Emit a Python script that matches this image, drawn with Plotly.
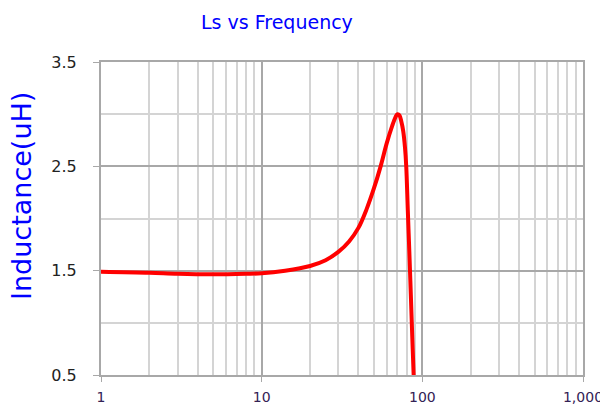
import plotly.graph_objects as go

# Frequency (MHz) and inductance (uH)
freq = [1, 2, 3, 5, 8, 10, 14, 20, 25, 30, 35, 40, 45, 50, 55, 60, 65,
        68, 70, 72, 74, 76, 78, 79.4, 81.2, 83.0, 84.8, 86.6, 88.3, 88.8]
ls = [1.49, 1.48, 1.47, 1.465, 1.47, 1.475, 1.50, 1.545, 1.60, 1.68, 1.78,
      1.91, 2.09, 2.29, 2.50, 2.72, 2.89, 2.97, 3.00, 2.99, 2.93, 2.84,
      2.68, 2.50, 2.08, 1.68, 1.27, 0.86, 0.50, 0.38]

x_tickvals = [1, 10, 100, 1000]
x_ticktext = ["1", "10", "100", "1,000"]
y_tickvals = [0.5, 1.5, 2.5, 3.5]
y_ticktext = ["0.5", "1.5", "2.5", "3.5"]

title_text = "Ls vs Frequency"
y_title = "Inductance(uH)"

major = "#a8a8a8"
minor_c = "#d4d4d4"
font = "DejaVu Sans"

# the page body has an 8px default margin, so the figure is offset by 8px
OFF = 8
W, H = 608 - OFF, 406 - OFF
L, R, T, B = 101 - OFF, 25, 62 - OFF, 31
pw, ph = W - L - R, H - T - B

fig = go.Figure()
fig.add_trace(go.Scatter(
    x=freq, y=ls, mode="lines",
    line=dict(color="#ff0000", width=4, shape="spline", smoothing=1.0),
    hoverinfo="skip", showlegend=False,
))

fig.update_layout(
    width=W, height=H,
    margin=dict(l=L, r=R, t=T, b=B, autoexpand=False),
    paper_bgcolor="white", plot_bgcolor="white",
    annotations=[
        dict(text=title_text, xref="paper", yref="paper",
             x=(277 - OFF - L) / pw, y=(H - B - (22 - OFF)) / ph,
             xanchor="center", yanchor="middle", showarrow=False,
             font=dict(family=font, size=19, color="#0000ff")),
        dict(text=y_title, xref="paper", yref="paper",
             x=(21 - OFF - L) / pw, y=(H - B - (196 - OFF)) / ph,
             xanchor="center", yanchor="middle", textangle=-90,
             showarrow=False,
             font=dict(family=font, size=27, color="#0000ff")),
    ],
)

fig.update_xaxes(
    type="log", range=[0, 3], automargin=False,
    tickmode="array", tickvals=x_tickvals, ticktext=x_ticktext,
    ticks="outside", ticklen=5, tickcolor=major, tickwidth=1,
    showgrid=True, gridcolor=major, gridwidth=2,
    showline=True, linecolor=major, linewidth=2, mirror=True,
    zeroline=False,
    tickfont=dict(family=font, size=14, color="#332255"),
    ticklabelstandoff=3,
    minor=dict(dtick="D1", showgrid=True, gridcolor=minor_c, gridwidth=2,
               ticks=""),
)
fig.update_yaxes(
    range=[0.5, 3.5], automargin=False,
    tickmode="array", tickvals=y_tickvals, ticktext=y_ticktext,
    ticks="outside", ticklen=6, tickcolor=major, tickwidth=1,
    showgrid=True, gridcolor=major, gridwidth=2,
    showline=True, linecolor=major, linewidth=2, mirror=True,
    zeroline=False,
    tickfont=dict(family=font, size=16, color="#222222"),
    ticklabelstandoff=13,
    minor=dict(tick0=0.5, dtick=0.5, showgrid=True, gridcolor=minor_c,
               gridwidth=2, ticks=""),
)

fig.write_html("out.html")
